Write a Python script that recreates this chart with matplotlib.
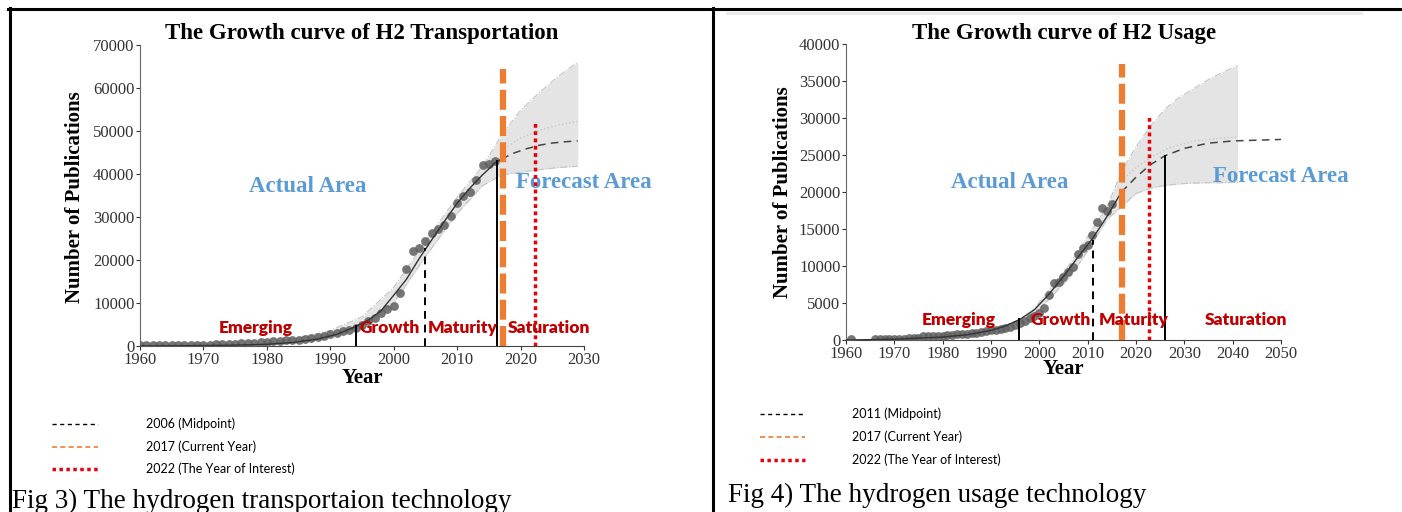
import matplotlib
matplotlib.use("Agg")
import matplotlib.pyplot as plt
from matplotlib.lines import Line2D

# ---- data: H2 Transportation (left) ----
trans_years = list(range(1960, 2017))
trans_pubs = [300, 300, 250, 150, 200, 200, 250, 250, 250, 300,
              300, 300, 350, 350, 400, 400, 700, 750, 800, 900,
              1000, 1100, 1200, 1300, 1400, 1500, 1700, 1900, 2100, 2400,
              2800, 3000, 3400, 3800, 4300, 5000, 5700, 6600, 7700, 8500,
              9300, 12300, 17800, 22000, 22800, 24400, 26300, 27100, 28200, 30300,
              33300, 35000, 35700, 38700, 42200, 42400, 43000]
trans_fit_years = [1960, 1970, 1975, 1980, 1984, 1988, 1991, 1994, 1996, 1998,
                   2000, 2002, 2004, 2006, 2008, 2010, 2012, 2014, 2016, 2017]
trans_fit = [0, 100, 200, 400, 800, 1600, 2700, 4500, 6000, 8200,
             11800, 15500, 20300, 24700, 29000, 33200, 36700, 39800, 42600, 43500]
trans_fc_years = [2017, 2019, 2021, 2023, 2025, 2027, 2029]
trans_fc = [43500, 44900, 45900, 46700, 47200, 47500, 47700]
trans_band_years = [1980, 1985, 1990, 1995, 2000, 2005, 2010, 2014, 2017, 2020, 2023, 2026, 2029]
trans_band_hi = [700, 1900, 3600, 6800, 13600, 24300, 34600, 41800, 49000, 54800, 59000, 62800, 66000]
trans_band_lo = [300, 1100, 2300, 4500, 10000, 20800, 30800, 37300, 39800, 40400, 41000, 41500, 41800]
trans_mid_years = [2017, 2020, 2023, 2026, 2029]
trans_mid = [45500, 48300, 50200, 51400, 52200]
# phase boundaries (year, height)
trans_phase_x = [1994.1, 2016.3]
trans_phase_h = [4700, 43000]
trans_midpoint = (2005.0, 22800)
trans_current = (2017.3, 64500)
trans_interest = (2022.3, 52500)

# ---- data: H2 Usage (right) ----
usage_years = [1961] + list(range(1966, 2016))
usage_pubs = [150, 100, 120, 150, 150, 180, 200, 200, 220, 250, 280,
              500, 520, 550, 580, 600, 650, 700, 750, 800, 850,
              900, 1000, 1100, 1200, 1300, 1400, 1500, 1600, 1800, 2000,
              2300, 2600, 3000, 3300, 3700, 4300, 6100, 7700, 7900, 8500,
              9200, 9900, 11600, 12400, 12800, 14200, 16000, 17900, 17500, 18400]
usage_fit_years = [1960, 1970, 1980, 1985, 1990, 1993, 1996, 1999, 2002, 2005, 2008, 2011, 2014, 2017]
usage_fit = [0, 100, 400, 700, 1300, 1900, 2800, 4100, 6200, 8600, 11200, 13700, 16700, 20000]
usage_fc_years = [2017, 2020, 2023, 2026, 2030, 2035, 2040, 2045, 2050]
usage_fc = [20000, 22000, 23700, 24900, 25900, 26600, 26900, 27000, 27100]
usage_band_years = [1998, 2002, 2006, 2010, 2014, 2017, 2020, 2023, 2026, 2029, 2032, 2035, 2038, 2041]
usage_band_hi = [3500, 6800, 10000, 14000, 18000, 22700, 26100, 28900, 31200, 32800, 34000, 35200, 36200, 37100]
usage_band_lo = [2800, 5500, 8300, 12000, 16300, 18000, 19800, 20500, 20900, 21100, 21200, 21250, 21250, 21300]
usage_mid_years = [2017, 2020, 2023, 2027, 2032, 2041]
usage_mid = [21500, 23300, 24700, 26000, 26900, 27500]
usage_phase_x = [1995.7, 2026.0]
usage_phase_h = [2800, 24800]
usage_midpoint = (2011.1, 13500)
usage_current = (2017.2, 37300)
usage_interest = (2022.7, 30200)

phases = ["Emerging", "Growth", "Maturity", "Saturation"]

SERIF = "Liberation Serif"
SANS = "Lato"
ORANGE = "#ED7D31"
RED = "#E8000B"
DARKRED = "#C00000"
BLUE = "#5B9BD5"

W, H = 1402, 512
fig = plt.figure(figsize=(W / 100, H / 100), dpi=100)


def fx(px):
    return px / W


def fy(py):
    return 1 - py / H


def draw_panel(rect, years, pubs, fit_x, fit_y, fc_x, fc_y, band_x, band_hi, band_lo,
               mid_x, mid_y, ph_x, ph_h, midpoint, current, interest,
               xmax, ymax, ystep, phase_pos, phase_y, actual_pos, forecast_pos):
    ax = fig.add_axes(rect)
    ax.fill_between(band_x, band_lo, band_hi, color="#e4e4e4", lw=0, zorder=1)
    ax.plot(band_x, band_hi, color="#c4c4c4", lw=0.8, ls="-.", zorder=1)
    ax.plot(band_x, band_lo, color="#c4c4c4", lw=0.8, ls="-.", zorder=1)
    ax.plot(mid_x, mid_y, color="#c8c8c8", lw=1.0, ls=":", zorder=1)
    ax.scatter(years, pubs, s=40, color="#5e5e5e", alpha=0.85, lw=0, zorder=3)
    ax.plot(fit_x, fit_y, color="#333333", lw=1.0, zorder=4)
    ax.plot(fc_x, fc_y, color="#444444", lw=1.1, dashes=(5, 3.5), zorder=4)
    for x, h in zip(ph_x, ph_h):
        ax.plot([x, x], [0, h], color="black", lw=1.4, zorder=5)
    ax.plot([midpoint[0]] * 2, [0, midpoint[1]], color="black", lw=1.4, dashes=(4, 3), zorder=5)
    ax.plot([current[0]] * 2, [0, current[1]], color=ORANGE, lw=4.5, dashes=(3.2, 1.0), zorder=6)
    ax.plot([interest[0]] * 2, [0, interest[1]], color=RED, lw=2.5, dashes=(1.1, 1.0), zorder=6)

    ax.set_xlim(1960, xmax)
    ax.set_ylim(0, ymax)
    ax.set_xticks(range(1960, xmax + 1, 10))
    ax.set_yticks(range(0, ymax + 1, ystep))
    for s in ["top", "right"]:
        ax.spines[s].set_visible(False)
    ax.spines["left"].set_color("#666666")
    ax.spines["bottom"].set_color("#444444")
    ax.tick_params(length=3, width=0.8, colors="#333333", labelsize=12, pad=1)
    for lab in ax.get_xticklabels() + ax.get_yticklabels():
        lab.set_fontfamily(SERIF)

    for name, px in zip(phases, phase_pos):
        ax.text(px, phase_y, name, color=DARKRED, fontsize=12.5, fontweight="heavy",
                family=SANS, ha="center", va="center", zorder=7)
    ax.text(actual_pos[0], actual_pos[1], "Actual Area", color=BLUE, fontsize=16.5,
            fontweight="bold", family=SERIF, ha="center", va="center")
    ax.text(forecast_pos[0], forecast_pos[1], "Forecast Area", color=BLUE, fontsize=16.5,
            fontweight="bold", family=SERIF, ha="center", va="center", clip_on=False)
    return ax


# left panel
draw_panel([fx(140), fy(346), fx(584 - 140), (346 - 45) / H],
           trans_years, trans_pubs, trans_fit_years, trans_fit, trans_fc_years, trans_fc,
           trans_band_years, trans_band_hi, trans_band_lo, trans_mid_years, trans_mid,
           trans_phase_x, trans_phase_h, trans_midpoint, trans_current, trans_interest,
           2030, 70000, 10000, [1978.3, 1999.3, 2010.8, 2024.5], 4300,
           (1986.5, 37000), (2030.0, 38100))
# right panel
draw_panel([fx(846), fy(340), fx(1281 - 846), (340 - 44) / H],
           usage_years, usage_pubs, usage_fit_years, usage_fit, usage_fc_years, usage_fc,
           usage_band_years, usage_band_hi, usage_band_lo, usage_mid_years, usage_mid,
           usage_phase_x, usage_phase_h, usage_midpoint, usage_current, usage_interest,
           2050, 40000, 5000, [1983.4, 2004.4, 2019.5, 2042.7], 2700,
           (1993.9, 21300), (2050.0, 22100))

# titles and axis labels
fig.text(fx(362), fy(34), "The Growth curve of H2 Transportation", family=SERIF,
         fontsize=16.5, fontweight="bold", ha="center", va="center")
fig.text(fx(1064), fy(34), "The Growth curve of H2 Usage", family=SERIF,
         fontsize=16.5, fontweight="bold", ha="center", va="center")
fig.text(fx(75), fy(197), "Number of Publications", family=SERIF, fontsize=15,
         fontweight="bold", rotation=90, ha="center", va="center")
fig.text(fx(783), fy(192), "Number of Publications", family=SERIF, fontsize=15,
         fontweight="bold", rotation=90, ha="center", va="center")
fig.text(fx(362), fy(378), "Year", family=SERIF, fontsize=15, fontweight="bold",
         ha="center", va="center")
fig.text(fx(1063), fy(369), "Year", family=SERIF, fontsize=15, fontweight="bold",
         ha="center", va="center")

# legend notes below each chart
legend_styles = [dict(color="black", lw=1.0, dashes=(3, 2.5)),
                 dict(color=ORANGE, lw=1.2, dashes=(3, 2)),
                 dict(color=RED, lw=2.5, dashes=(1.0, 1.0))]
left_notes = ["2006 (Midpoint)", "2017 (Current Year)", "2022 (The Year of Interest)"]
right_notes = ["2011 (Midpoint)", "2017 (Current Year)", "2022 (The Year of Interest)"]
for note, st, y in zip(left_notes, legend_styles, [424, 447, 469]):
    fig.add_artist(Line2D([fx(52), fx(98)], [fy(y), fy(y)], **st))
    fig.text(fx(146), fy(y), note, family=SANS, fontsize=9, va="center")
for note, st, y in zip(right_notes, legend_styles, [414, 437, 460]):
    fig.add_artist(Line2D([fx(760), fx(805)], [fy(y), fy(y)], **st))
    fig.text(fx(852), fy(y), note, family=SANS, fontsize=9, va="center")

fig.text(fx(12), fy(501), "Fig 3) The hydrogen transportaion technology", family=SERIF,
         fontsize=19.5, va="center")
fig.text(fx(728), fy(495), "Fig 4) The hydrogen usage technology", family=SERIF,
         fontsize=19.5, va="center")

# table borders
fig.add_artist(Line2D([fx(8), 1], [fy(9), fy(9)], color="black", lw=2.2))
fig.add_artist(Line2D([fx(9.5), fx(9.5)], [fy(8), 0], color="black", lw=2.2))
fig.add_artist(Line2D([fx(713), fx(713)], [fy(8), 0], color="black", lw=2.2))
fig.add_artist(Line2D([fx(727), fx(1361)], [fy(13), fy(13)], color="#ebebeb", lw=2.2))

fig.savefig("out.png", dpi=100)
